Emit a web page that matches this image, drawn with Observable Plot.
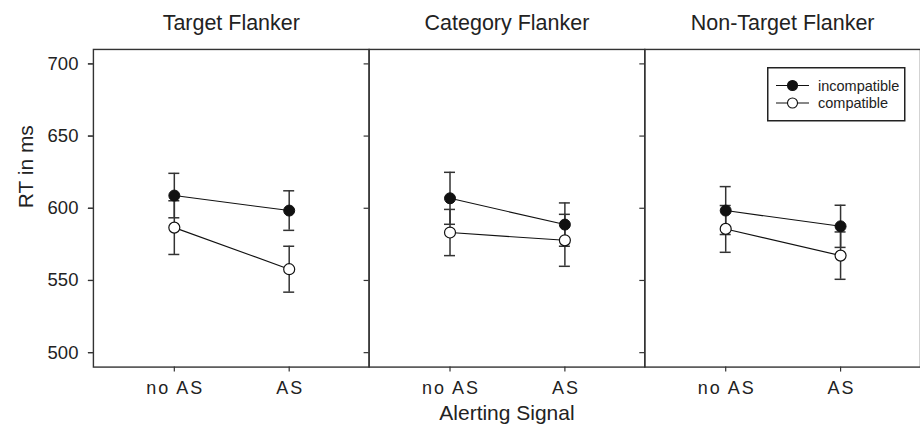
<!DOCTYPE html>
<html>
<head>
<meta charset="utf-8">
<script src="https://cdn.jsdelivr.net/npm/d3@7"></script>
<script src="https://cdn.jsdelivr.net/npm/@observablehq/plot@0.6"></script>
<style>
  html, body { margin: 0; padding: 0; background: #fff; }
  #wrap { position: relative; width: 920px; height: 433px; overflow: hidden; font-family: "Liberation Sans", Arial, sans-serif; }
  #legend { position: absolute; left: 767px; top: 67px; }
</style>
</head>
<body>
<div id="wrap"></div>
<script>
const panels = ["Target Flanker", "Category Flanker", "Non-Target Flanker"];
const conditions = ["no AS", "AS"];
const series = ["incompatible", "compatible"];
const incompatibleMeans = [[608.8, 598.4], [606.9, 588.7], [598.4, 587.5]];
const incompatibleSE    = [[15.4, 13.7], [18.0, 15.0], [16.6, 14.6]];
const compatibleMeans   = [[586.6, 557.8], [583.2, 577.8], [585.7, 567.2]];
const compatibleSE      = [[18.6, 15.9], [16.0, 18.0], [16.2, 16.4]];
const yTicks = [500, 550, 600, 650, 700];
const yLabel = "RT in ms";
const xLabel = "Alerting Signal";

const rows = [];
panels.forEach((p, i) => conditions.forEach((c, j) => {
  rows.push({panel: p, cond: c, type: series[0], mean: incompatibleMeans[i][j], se: incompatibleSE[i][j]});
  rows.push({panel: p, cond: c, type: series[1], mean: compatibleMeans[i][j], se: compatibleSE[i][j]});
}));
const incRows = rows.filter(d => d.type === series[0]);
const comRows = rows.filter(d => d.type === series[1]);

const font = "'Liberation Sans', Arial, sans-serif";

const chart = Plot.plot({
  width: 921,
  height: 433,
  marginLeft: 92,
  marginRight: 0,
  marginTop: 49,
  marginBottom: 66,
  style: {fontFamily: font, background: "white", color: "#222", overflow: "visible"},
  fx: {domain: panels, padding: 0},
  x: {type: "point", domain: conditions, padding: 0.7},
  y: {domain: [490, 710]},
  marks: [
    Plot.frame({stroke: "#333", strokeWidth: 1.4}),
    Plot.axisFx({anchor: "top", label: null, tickSize: 0, tickPadding: 19, fontSize: 21.5, fill: "#222"}),
    Plot.axisY({ticks: yTicks, tickSize: 5, tickFormat: () => "", facetAnchor: null, label: null, stroke: "#333", strokeWidth: 1.2}),
    Plot.axisY({ticks: yTicks, tickSize: 5, tickPadding: 10, fontSize: 18.5, label: null, stroke: "#333", strokeWidth: 1.2, fill: "#222"}),
    Plot.axisX({tickSize: 5, tickPadding: 9, fontSize: 18, label: null, stroke: "#333", strokeWidth: 1.2, fill: "#222"}),
    Plot.text([{panel: panels[0], t: yLabel}], {fx: "panel", text: "t", frameAnchor: "left", rotate: -90, dx: -67, fontSize: 21, fill: "#222"}),
    Plot.text([{panel: panels[1], t: xLabel}], {fx: "panel", text: "t", frameAnchor: "bottom", dy: 53, fontSize: 21, fill: "#222"}),
    Plot.ruleX(rows, {fx: "panel", x: "cond", y1: d => d.mean - d.se, y2: d => d.mean + d.se, stroke: "#333", strokeWidth: 1.5}),
    Plot.ruleY(rows, {fx: "panel", x1: "cond", x2: "cond", y: d => d.mean + d.se, insetLeft: -5.5, insetRight: -5.5, stroke: "#333", strokeWidth: 1.5}),
    Plot.ruleY(rows, {fx: "panel", x1: "cond", x2: "cond", y: d => d.mean - d.se, insetLeft: -5.5, insetRight: -5.5, stroke: "#333", strokeWidth: 1.5}),
    Plot.line(rows, {fx: "panel", x: "cond", y: "mean", z: "type", stroke: "#111", strokeWidth: 1.1}),
    Plot.dot(incRows, {fx: "panel", x: "cond", y: "mean", r: 5.5, fill: "#111", stroke: "#111", strokeWidth: 1}),
    Plot.dot(comRows, {fx: "panel", x: "cond", y: "mean", r: 5.5, fill: "white", stroke: "#111", strokeWidth: 1.2})
  ]
});

// spaced-out x tick labels as in the reference
d3.select(chart).selectAll('g[aria-label="x-axis tick label"] text')
  .attr("letter-spacing", "2px")
  .attr("dx", "1px");

const wrap = document.getElementById("wrap");
wrap.appendChild(chart);

// legend
const ns = "http://www.w3.org/2000/svg";
const leg = document.createElementNS(ns, "svg");
leg.setAttribute("id", "legend");
leg.setAttribute("width", 139);
leg.setAttribute("height", 55);
const box = document.createElementNS(ns, "rect");
box.setAttribute("x", 0.75); box.setAttribute("y", 0.75);
box.setAttribute("width", 137); box.setAttribute("height", 53);
box.setAttribute("fill", "white"); box.setAttribute("stroke", "#222"); box.setAttribute("stroke-width", 1.5);
leg.appendChild(box);
series.forEach((s, i) => {
  const cy = 18.5 + i * 17.5;
  const ln = document.createElementNS(ns, "line");
  ln.setAttribute("x1", 9); ln.setAttribute("x2", 42);
  ln.setAttribute("y1", cy); ln.setAttribute("y2", cy);
  ln.setAttribute("stroke", "#111"); ln.setAttribute("stroke-width", 1.2);
  leg.appendChild(ln);
  const c = document.createElementNS(ns, "circle");
  c.setAttribute("cx", 25.5); c.setAttribute("cy", cy); c.setAttribute("r", 5);
  c.setAttribute("fill", i === 0 ? "#111" : "white");
  c.setAttribute("stroke", "#111"); c.setAttribute("stroke-width", 1.1);
  leg.appendChild(c);
  const t = document.createElementNS(ns, "text");
  t.setAttribute("x", 51); t.setAttribute("y", cy + 5);
  t.setAttribute("font-family", font); t.setAttribute("font-size", 14.5);
  t.setAttribute("fill", "#222");
  t.textContent = s;
  leg.appendChild(t);
});
wrap.appendChild(leg);
</script>
</body>
</html>
